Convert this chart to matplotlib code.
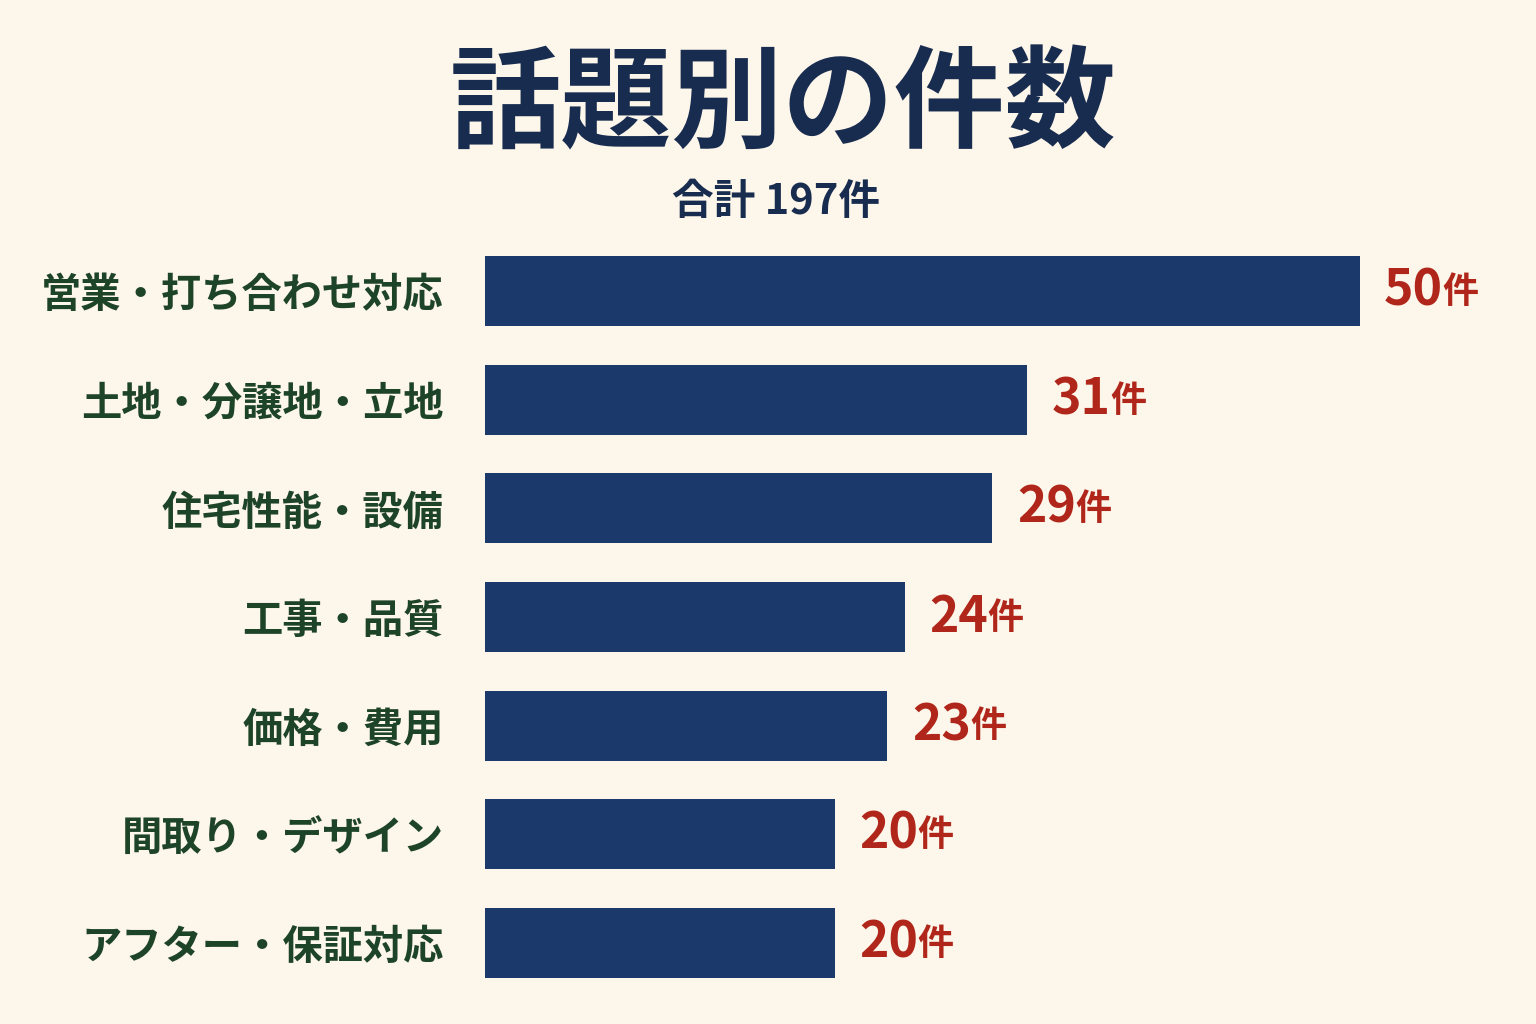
import matplotlib
matplotlib.use("Agg")
import matplotlib.pyplot as plt

plt.rcParams['font.family'] = ['Noto Sans CJK JP', 'DejaVu Sans']

# --- data ---
categories = ["営業・打ち合わせ対応", "土地・分譲地・立地", "住宅性能・設備",
              "工事・品質", "価格・費用", "間取り・デザイン", "アフター・保証対応"]
counts = [50, 31, 29, 24, 23, 20, 20]
title = "話題別の件数"
subtitle = "合計 197件"

BG = "#fdf6ea"
NAVY = "#1b3a6b"
TITLE_COL = "#182c4f"
LABEL_COL = "#1e4427"
VALUE_COL = "#b0261a"

fig = plt.figure(figsize=(15.36, 10.24), dpi=100, facecolor=BG)
ax = fig.add_axes([0.316, 1 - 997 / 1024, 0.634, 760 / 1024])
ax.set_facecolor(BG)

y = list(range(len(categories)))
ax.barh(y, counts, height=0.645, color=NAVY)
ax.set_ylim(len(categories) - 0.5, -0.5)
ax.set_xlim(0, 55.7)

ax.set_yticks(y)
ax.set_yticklabels(categories, fontsize=29, fontweight="bold", color=LABEL_COL)
ax.tick_params(axis="y", length=0, pad=30)
ax.set_xticks([])
for s in ax.spines.values():
    s.set_visible(False)

for yi, v in zip(y, counts):
    ax.text(v + 1.4, yi, f"{v}", fontsize=36, color=VALUE_COL,
            va="center", ha="left", fontweight="bold")
    # the 件 suffix sits smaller after the number
    ax.annotate("件", xy=(v + 1.4, yi), xytext=(len(str(v)) * 21, -1),
                textcoords="offset points", fontsize=26, color=VALUE_COL,
                va="center", ha="left", fontweight="bold")

fig.text(0.51, 0.895, title, fontsize=80, fontweight="bold", color=TITLE_COL,
         ha="center", va="center")
fig.text(0.505, 0.803, subtitle, fontsize=30, fontweight="bold", color=TITLE_COL,
         ha="center", va="center")

fig.savefig("out.png", facecolor=BG)
